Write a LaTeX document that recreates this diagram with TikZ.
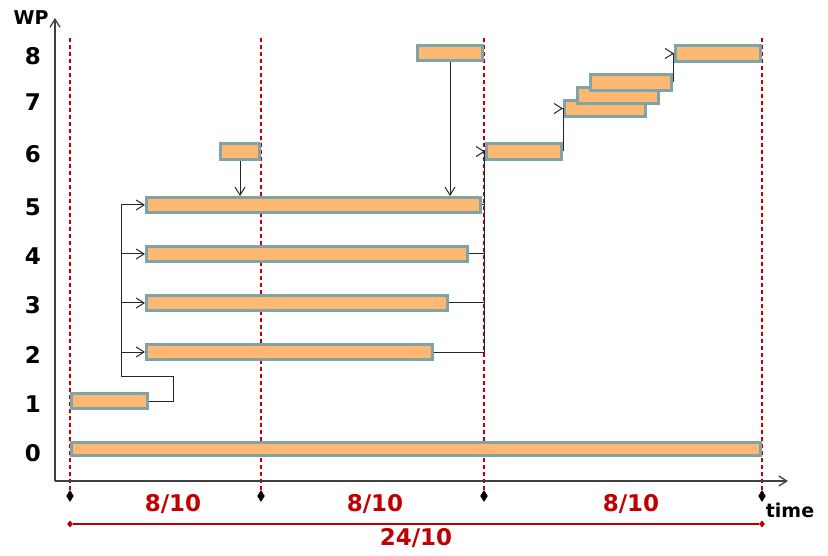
\documentclass[tikz,border=0pt]{standalone}
\usepackage{fontspec}
\setmainfont{DejaVu Sans}
\usetikzlibrary{arrows.meta,shapes.geometric}
\definecolor{barfill}{HTML}{FFB871}
\definecolor{barline}{HTML}{7FA4A7}
\definecolor{dred}{HTML}{C00000}
\definecolor{axisgray}{HTML}{404040}
\newcommand\wpbar[5]{\node[wpbarstyle, minimum width={#4-#2-3.2}, minimum height={#5-#3-3.2}] (#1) at ({(#2+#4)/2},{(#3+#5)/2}) {};}
\tikzset{
  wpbarstyle/.style={draw=barline, fill=barfill, line width=3.2pt, inner sep=0pt, rectangle},
  conn/.style={black!85, line width=1pt},
  axisline/.style={axisgray, line width=1.3pt},
  dashline/.style={dred, line width=1.1pt, dash pattern=on 4pt off 3pt},
  blackdia/.style={diamond, fill=black, draw=black, inner sep=0pt, minimum width=7pt, minimum height=11pt},
  reddia/.style={diamond, fill=dred, inner sep=0pt, minimum width=6pt, minimum height=7pt},
  numlabel/.style={anchor=base, inner sep=0pt, font=\fontsize{23}{27}\selectfont\bfseries},
  axislabel/.style={anchor=base, inner sep=0pt, font=\fontsize{19}{23}\selectfont\bfseries},
  spanlabel/.style={anchor=base, inner sep=0pt, text=dred, font=\fontsize{23}{27}\selectfont\bfseries},
  >={Straight Barb[length=8pt,width=10pt]}
}
\begin{document}
\begin{tikzpicture}[x=1pt,y=-1pt]
\useasboundingbox (0,0) rectangle (828,556);
% dashed verticals and diamonds
\node[blackdia] (d1) at (70,496) {};
\node[blackdia] (d2) at (261,496) {};
\node[blackdia] (d3) at (484,496) {};
\node[blackdia] (d4) at (762,496) {};
\coordinate (t1) at (70,38);
\coordinate (t2) at (261,38);
\coordinate (t3) at (484,38);
\coordinate (t4) at (762,38);
\draw[dashline] (t1) -- (d1);
\draw[dashline] (t2) -- (d2);
\draw[dashline] (t3) -- (d3);
\draw[dashline] (t4) -- (d4);
% axes
\coordinate (o) at (55,481);
\coordinate (ytip) at (55,18);
\coordinate (xtip) at (788,481);
\draw[axisline,->] (o) -- (ytip);
\draw[axisline,->] (o) -- (xtip);
% bars
\wpbar{b0}{70}{441}{762}{457}
\wpbar{b1}{70}{392}{149}{410}
\wpbar{b2}{145}{343}{434}{361}
\wpbar{b3}{145}{294}{449}{312}
\wpbar{b4}{145}{245}{469}{263}
\wpbar{b5}{145}{196}{482}{214}
\wpbar{b6s}{219}{142}{261}{161}
\wpbar{b6}{485}{142}{563}{161}
\wpbar{b8l}{416}{44}{484}{62}
\wpbar{b7a}{563}{99}{647}{118}
\wpbar{b7b}{576}{86}{660}{105}
\wpbar{b7c}{589}{73}{673}{92}
\wpbar{b8r}{674}{44}{762}{63}
% connectors from WP1
\coordinate (j1) at (173,376);
\coordinate (j2) at (121,376);
\draw[conn,->] (b1.east) -| (j1) -- (j2) |- (b5.west);
\draw[conn,->] (j2 |- b2.west) -- (b2.west);
\draw[conn,->] (j2 |- b3.west) -- (b3.west);
\draw[conn,->] (j2 |- b4.west) -- (b4.west);
% into WP5
\draw[conn,->] (b6s.south) -- (b6s.south |- b5.north);
\draw[conn,->] (b8l.south) -- (b8l.south |- b5.north);
% into WP6
\coordinate (k) at (484,0);
\draw[conn] (b3.east) -- (b3.east -| k);
\draw[conn] (b4.east) -- (b4.east -| k);
\draw[conn] (b5.east) -- (b5.east -| k);
\draw[conn] (b2.east) -- (b2.east -| k) -- (k |- b6.west);
\draw[conn,->] ([xshift=-0.1pt]b6.west) -- (b6.west);
% into WP7 and WP8
\draw[conn] (b6.east) -- (b6.east |- b7a.west);
\draw[conn,->] ([xshift=-0.1pt]b7a.west) -- (b7a.west);
\draw[conn] (b7c.east) -- (b7c.east |- b8r.west);
\draw[conn,->] ([xshift=-0.1pt]b8r.west) -- (b8r.west);
% row labels
\node[numlabel] (n8) at (33,65) {8};
\node[numlabel] (n7) at (33,111) {7};
\node[numlabel] (n6) at (33,163) {6};
\node[numlabel] (n5) at (33,216) {5};
\node[numlabel] (n4) at (33,265) {4};
\node[numlabel] (n3) at (33,313) {3};
\node[numlabel] (n2) at (33,363) {2};
\node[numlabel] (n1) at (33,412) {1};
\node[numlabel] (n0) at (33,461) {0};
\node[axislabel] (wp) at (31,25) {WP};
\node[axislabel] (time) at (790,517) {time};
% spans
\node[spanlabel] (s1) at (173,511) {8/10};
\node[spanlabel] (s2) at (375,511) {8/10};
\node[spanlabel] (s3) at (631,511) {8/10};
\node[reddia] (r1) at (70,524) {};
\node[reddia] (r2) at (762,524) {};
\draw[dred, line width=1.3pt] (r1) -- (r2);
\node[spanlabel] (s4) at (416,545) {24/10};
\end{tikzpicture}
\end{document}
